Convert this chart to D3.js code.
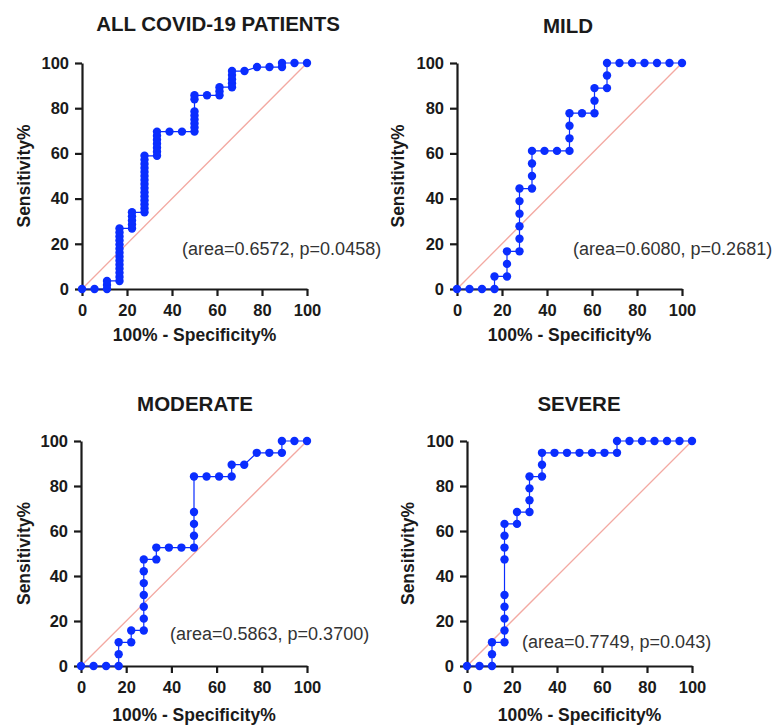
<!DOCTYPE html>
<html>
<head>
<meta charset="utf-8">
<script src="https://cdn.jsdelivr.net/npm/d3@7"></script>
<style>
  html, body { margin: 0; padding: 0; background: #fff; }
  svg { display: block; }
  text { font-family: "Liberation Sans", Arial, Helvetica, sans-serif; }
</style>
</head>
<body>
<svg id="chart" width="774" height="726"></svg>
<script>
// 100% - Specificity% steps (one control = 1/18)
const fprSteps = [0, 5.56, 11.11, 16.67, 22.22, 27.78, 33.33, 38.89, 44.44, 50,
                  55.56, 61.11, 66.67, 72.22, 77.78, 83.33, 88.89, 94.44, 100];

// Sensitivity% values reached at each specificity step
const allTpr = [
  [0], [0], [0, 1.79, 3.57],
  [3.57, 5.36, 7.14, 8.93, 10.71, 12.5, 14.29, 16.07, 17.86, 19.64, 21.43, 23.21, 25, 26.79],
  [26.79, 28.57, 30.36, 32.14, 33.93],
  [33.93, 35.71, 37.5, 39.29, 41.07, 42.86, 44.64, 46.43, 48.21, 50, 51.79, 53.57, 55.36, 57.14, 58.93],
  [58.93, 60.71, 62.5, 64.29, 66.07, 67.86, 69.64],
  [69.64], [69.64],
  [69.64, 71.43, 73.21, 75, 76.79, 78.57, 83.93, 85.71],
  [85.71], [85.71, 87.5, 89.29],
  [89.29, 91.07, 92.86, 94.64, 96.43],
  [96.43], [98.21], [98.21], [98.21, 100], [100], [100]
];
const mildTpr = [
  [0], [0], [0], [0, 5.56], [5.56, 11.11, 16.67],
  [16.67, 22.22, 27.78, 33.33, 38.89, 44.44],
  [44.44, 50, 55.56, 61.11], [61.11], [61.11],
  [61.11, 66.67, 72.22, 77.78], [77.78],
  [77.78, 83.33, 88.89], [88.89, 94.44, 100],
  [100], [100], [100], [100], [100], [100]
];
const moderateTpr = [
  [0], [0], [0], [0, 5.26, 10.53], [10.53, 15.79],
  [15.79, 21.05, 26.32, 31.58, 36.84, 42.11, 47.37],
  [47.37, 52.63], [52.63], [52.63],
  [52.63, 57.89, 63.16, 68.42, 84.21],
  [84.21], [84.21], [84.21, 89.47], [89.47],
  [94.74], [94.74], [94.74, 100], [100], [100]
];
const severeTpr = [
  [0], [0], [0, 5.26, 10.53],
  [10.53, 15.79, 21.05, 26.32, 31.58, 47.37, 52.63, 57.89, 63.16],
  [63.16, 68.42], [68.42, 73.68, 78.95, 84.21],
  [84.21, 89.47, 94.74], [94.74], [94.74], [94.74], [94.74], [94.74],
  [94.74, 100], [100], [100], [100], [100], [100], [100]
];

const panelTitles = ["ALL COVID-19 PATIENTS", "MILD", "MODERATE", "SEVERE"];
const panelNotes = ["(area=0.6572, p=0.0458)", "(area=0.6080, p=0.2681)",
                    "(area=0.5863, p=0.3700)", "(area=0.7749, p=0.043)"];
const panelSeries = [allTpr, mildTpr, moderateTpr, severeTpr];
const axisTicks = [0, 20, 40, 60, 80, 100];
const xAxisTitle = "100% - Specificity%";
const yAxisTitle = "Sensitivity%";

// Placement of each panel on the page
const layout = [
  { x0: 82,  x1: 307, y0: 289, y1: 63,  titleX: 218, titleY: 31,  ylabX: 29.5, noteX: 182, noteY: 255, xlabY: 341 },
  { x0: 457, x1: 682, y0: 289, y1: 63,  titleX: 568, titleY: 33,  ylabX: 404,  noteX: 573, noteY: 255, xlabY: 341 },
  { x0: 81,  x1: 307, y0: 666, y1: 441, titleX: 195, titleY: 411, ylabX: 30,   noteX: 170, noteY: 640, xlabY: 721 },
  { x0: 467, x1: 692, y0: 666, y1: 441, titleX: 579, titleY: 411, ylabX: 414,  noteX: 522, noteY: 648, xlabY: 721 }
];

const BLUE = "#0a2dff";
const DIAG = "#f3a9a2";
const INK = "#1a1a1a";

const svg = d3.select("#chart");

panelSeries.forEach((series, i) => {
  const L = layout[i];
  const x = d3.scaleLinear().domain([0, 100]).range([L.x0, L.x1]);
  const y = d3.scaleLinear().domain([0, 100]).range([L.y0, L.y1]);
  const g = svg.append("g");

  // flatten (fpr, tpr) pairs in curve order
  const pts = [];
  series.forEach((ys, k) => ys.forEach(v => pts.push([fprSteps[k], v])));

  // reference diagonal
  g.append("line")
    .attr("x1", x(0)).attr("y1", y(0)).attr("x2", x(100)).attr("y2", y(100))
    .attr("stroke", DIAG).attr("stroke-width", 1.3);

  // axes
  const ax = g.append("g").attr("transform", `translate(0,${L.y0})`)
    .call(d3.axisBottom(x).tickValues(axisTicks).tickSize(7).tickSizeOuter(0).tickPadding(8));
  const ay = g.append("g").attr("transform", `translate(${L.x0},0)`)
    .call(d3.axisLeft(y).tickValues(axisTicks).tickSize(7).tickSizeOuter(0).tickPadding(6));
  [ax, ay].forEach(a => {
    a.select(".domain").attr("stroke", INK).attr("stroke-width", 2.2);
    a.selectAll(".tick line").attr("stroke", INK).attr("stroke-width", 2.2);
    a.selectAll(".tick text")
      .attr("fill", INK).style("font-size", "16.5px").style("font-weight", "bold")
      .style("font-family", "'Liberation Sans', Arial, sans-serif");
  });

  // ROC curve
  g.append("path").datum(pts)
    .attr("fill", "none").attr("stroke", BLUE).attr("stroke-width", 1.2)
    .attr("d", d3.line().x(d => x(d[0])).y(d => y(d[1])));
  g.selectAll("circle.pt").data(pts).join("circle")
    .attr("class", "pt")
    .attr("cx", d => x(d[0])).attr("cy", d => y(d[1]))
    .attr("r", 4.2).attr("fill", BLUE);

  // titles and labels
  g.append("text").attr("x", L.titleX).attr("y", L.titleY)
    .attr("text-anchor", "middle").attr("fill", INK)
    .style("font-size", "20.5px").style("font-weight", "bold")
    .text(panelTitles[i]);
  g.append("text").attr("x", (L.x0 + L.x1) / 2).attr("y", L.xlabY)
    .attr("text-anchor", "middle").attr("fill", INK)
    .style("font-size", "17.5px").style("font-weight", "bold")
    .text(xAxisTitle);
  g.append("text")
    .attr("transform", `translate(${L.ylabX},${(L.y0 + L.y1) / 2}) rotate(-90)`)
    .attr("text-anchor", "middle").attr("fill", INK)
    .style("font-size", "17.5px").style("font-weight", "bold")
    .text(yAxisTitle);
  g.append("text").attr("x", L.noteX).attr("y", L.noteY)
    .attr("fill", "#333")
    .style("font-size", "18px")
    .text(panelNotes[i]);
});
</script>
</body>
</html>
